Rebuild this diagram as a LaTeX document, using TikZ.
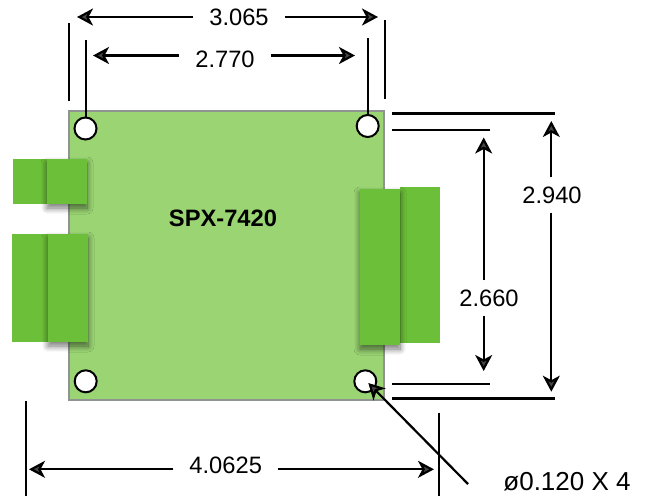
\documentclass[tikz,border=0pt]{standalone}
\usepackage{fontspec}
\setmainfont{Liberation Sans}
\usepackage{tikz}
\usetikzlibrary{arrows.meta,positioning,shadows.blur}
\definecolor{boardgreen}{HTML}{9AD473}
\definecolor{boardedge}{HTML}{8F9490}
\definecolor{plugreen}{HTML}{6CBF38}
\tikzset{
dimline/.style={line width=2.2pt},
dimarrow/.style={line width=2.2pt,-{Stealth[length=16pt,width=17pt,inset=4.5pt]}},
dimlabel/.style={inner xsep=16pt,inner ysep=9pt,font=\fontsize{23.7}{28}\selectfont},
hole/.style={circle,draw,line width=2pt,fill=white,minimum size=22pt,inner sep=0pt},
plug/.style={fill=plugreen},
plugtop/.style={fill=plugreen,blur shadow={shadow xshift=0pt,shadow yshift=-4pt,shadow blur radius=6pt,shadow blur steps=10,shadow opacity=55}}
}

\begin{document}
\begin{tikzpicture}[x=1pt,y=-1pt]
\useasboundingbox (0,0) rectangle (652,499);
% board
\draw[fill=boardgreen,draw=boardedge,line width=2pt] (68.5,110.5) rectangle (383.5,400);
\node[font=\fontsize{23.7}{28}\selectfont\bfseries] (boardname) at (223,218) {SPX-7420};
% connectors
\fill[plug] (13,159) rectangle (47,204);
\fill[plugtop] (47,159) rectangle (87,204);
\fill[plug] (12,234) rectangle (48,342);
\fill[plugtop] (48,234) rectangle (88,342);
\fill[plug] (400,187) rectangle (440,343);
\fill[plugtop] (360,189) rectangle (400,345);
% holes
\node[hole] (holea) at (85.5,128.5) {};
\node[hole] (holeb) at (367.7,126) {};
\node[hole] (holec) at (85.7,381.3) {};
\node[hole] (holed) at (365.3,381.3) {};
% end points
\coordinate (wa) at (77,17);
\coordinate (wb) at (378,17);
\coordinate (ha) at (93,55.5);
\coordinate (hb) at (355,55.5);
\coordinate (la) at (29,469.3);
\coordinate (lb) at (434,469.3);
\coordinate (ta) at (551.3,121);
\coordinate (tb) at (551.3,391.7);
\coordinate (ua) at (483.7,137.5);
\coordinate (ub) at (483.7,371);
% labels
\node[dimlabel] (wlabel) at (239,17) {3.065};
\node[dimlabel] (hlabel) at (225,59) {2.770};
\node[dimlabel] (llabel) at (225.7,465) {4.0625};
\node[dimlabel] (tlabel) at (552,195) {2.940};
\node[dimlabel] (ulabel) at (489,298) {2.660};
\node[font=\fontsize{26}{30}\selectfont] (dlabel) at (567,482) {ø0.120 X 4};
% dimensions
\draw[dimarrow] (wlabel.west |- wa) -- (wa);
\draw[dimarrow] (wlabel.east |- wb) -- (wb);
\draw[dimarrow] (hlabel.west |- ha) -- (ha);
\draw[dimarrow] (hlabel.east |- hb) -- (hb);
\draw[dimarrow] (llabel.west |- la) -- (la);
\draw[dimarrow] (llabel.east |- lb) -- (lb);
\draw[dimarrow] (ta |- tlabel.north) -- (ta);
\draw[dimarrow] (tb |- tlabel.south) -- (tb);
\draw[dimarrow] (ua |- ulabel.north) -- (ua);
\draw[dimarrow] (ub |- ulabel.south) -- (ub);
% extension lines
\coordinate (xa) at (69,23);
\coordinate (xb) at (69,101);
\coordinate (xc) at (384.7,20);
\coordinate (xd) at (384.7,99);
\coordinate (xe) at (86,40);
\coordinate (xf) at (367.7,38);
\coordinate (xg) at (26,401);
\coordinate (xh) at (26,495.7);
\coordinate (xi) at (439,412.7);
\coordinate (xj) at (439,495.7);
\coordinate (ya) at (392,113.4);
\coordinate (yb) at (555,113.4);
\coordinate (yc) at (392,129.7);
\coordinate (yd) at (490,129.7);
\coordinate (ye) at (392,383.7);
\coordinate (yf) at (490,383.7);
\coordinate (yg) at (392,398.5);
\coordinate (yh) at (555,398.5);
\draw[dimline] (xa)--(xb) (xc)--(xd) (xg)--(xh) (xi)--(xj);
\draw[dimline] (xe)--(xe |- holea.north) (xf)--(holeb);
\draw[dimline] (ya)--(yb) (yc)--(yd) (ye)--(yf) (yg)--(yh);
% leader
\coordinate (leadstart) at (468,484);
\coordinate (leadtip) at (368.3,383);
\draw[dimarrow] (leadstart) -- (leadtip);
\end{tikzpicture}
\end{document}
